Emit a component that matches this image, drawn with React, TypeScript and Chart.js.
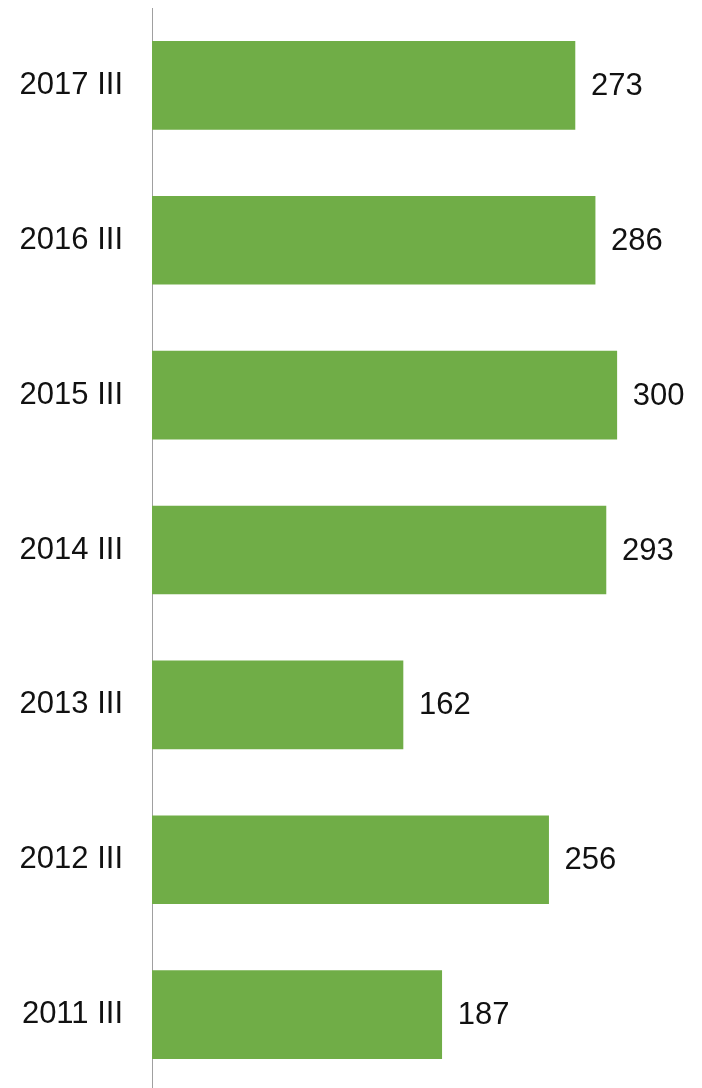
import React, { useEffect, useRef } from "react";
import { Chart, registerables } from "chart.js";

Chart.register(...registerables);

const categories = ["2017 III", "2016 III", "2015 III", "2014 III", "2013 III", "2012 III", "2011 III"];
const values = [273, 286, 300, 293, 162, 256, 187];

const FONT = "'Liberation Sans', Arial, sans-serif";

const valueLabels = {
  id: "valueLabels",
  afterDatasetsDraw(chart: any) {
    const ctx = chart.ctx;
    const meta = chart.getDatasetMeta(0);
    ctx.save();
    ctx.font = `31px ${FONT}`;
    ctx.fillStyle = "#111111";
    ctx.textAlign = "left";
    ctx.textBaseline = "middle";
    meta.data.forEach((bar: any, i: number) => {
      ctx.fillText(String(values[i]), bar.x + 16, bar.y + 1);
    });
    ctx.restore();
  },
};

export default function App() {
  const ref = useRef<HTMLCanvasElement>(null);
  useEffect(() => {
    if (!ref.current) return;
    const chart = new Chart(ref.current, {
      type: "bar",
      data: {
        labels: categories,
        datasets: [
          {
            data: values,
            backgroundColor: "#70AD47",
            borderWidth: 0,
            barThickness: 88,
          },
        ],
      },
      options: {
        indexAxis: "y",
        responsive: false,
        animation: false,
        layout: { padding: { top: 8, bottom: 0, left: 0, right: 0 } },
        plugins: { legend: { display: false }, tooltip: { enabled: false } },
        scales: {
          x: { display: false, min: 0, max: 355 },
          y: {
            afterFit: (scale: any) => {
              scale.width = 152;
              scale.paddingTop = 0;
              scale.paddingBottom = 0;
            },
            grid: { display: false, drawTicks: false },
            border: { display: true, color: "#a0a0a0", width: 1 },
            ticks: {
              padding: 29,
              color: "#111111",
              font: { family: FONT, size: 31 },
            },
          },
        },
      },
      plugins: [valueLabels],
    });
    return () => chart.destroy();
  }, []);
  return (
    <div style={{ position: "absolute", left: 0, top: 0, width: 702, height: 1088, overflow: "hidden" }}>
      <canvas ref={ref} width={702} height={1092} style={{ display: "block" }} />
    </div>
  );
}
